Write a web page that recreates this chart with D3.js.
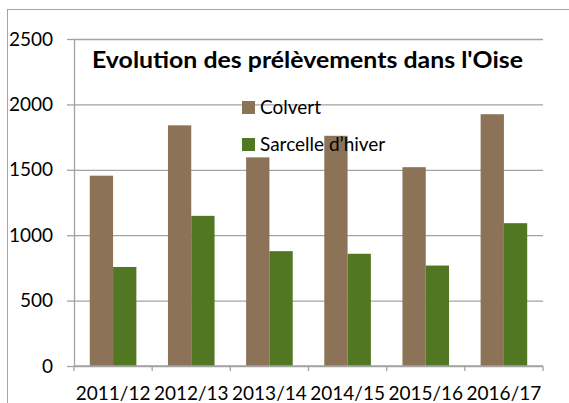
<!DOCTYPE html>
<html>
<head>
<meta charset="utf-8">
<script src="https://cdn.jsdelivr.net/npm/d3@7/dist/d3.min.js"></script>
<style>
  body { margin: 0; background: #fff; }
  svg { display: block; font-family: Lato, "Open Sans", sans-serif; }
</style>
</head>
<body>
<div id="chart"></div>
<script>
// Data
const seasons = ['2011/12', '2012/13', '2013/14', '2014/15', '2015/16', '2016/17'];
const colvert = [1455, 1840, 1595, 1760, 1520, 1925];
const sarcelle = [757, 1148, 878, 858, 768, 1092];
const seriesNames = ['Colvert', 'Sarcelle d\u2019hiver'];
const yTicks = [0, 500, 1000, 1500, 2000, 2500];
const title = "Evolution des pr\u00e9l\u00e8vements dans l'Oise";

const cfg = {
    width: 569, height: 403,
    plot: {left: 74, right: 543, top: 39, bottom: 366},
    colors: ['#8c7358', '#527722'],
    grid: '#a3a3a3',
    fontSize: 19,
};

const rows = seasons.map((s, i) => ({season: s, values: [colvert[i], sarcelle[i]]}));

const svg = d3.select('#chart').append('svg')
    .attr('width', cfg.width)
    .attr('height', cfg.height);

// Outer chart frame (cut off at right and bottom)
svg.append('rect')
    .attr('x', 7.5).attr('y', 9.5)
    .attr('width', 700).attr('height', 500)
    .attr('fill', 'none')
    .attr('stroke', '#a6a6a6');

// Scales
const x = d3.scaleBand()
    .domain(seasons)
    .range([cfg.plot.left, cfg.plot.right]);

const xInner = d3.scaleBand()
    .domain(seriesNames)
    .range([x.bandwidth() * 0.202, x.bandwidth() * 0.798]);

const y = d3.scaleLinear()
    .domain([0, 2500])
    .range([cfg.plot.bottom, cfg.plot.top]);

// Horizontal grid
svg.append('g')
    .attr('transform', `translate(${cfg.plot.left},0)`)
    .call(d3.axisLeft(y).tickValues(yTicks).tickSize(-(cfg.plot.right - cfg.plot.left)).tickFormat(''))
    .call(g => g.select('.domain').remove())
    .call(g => g.selectAll('line').attr('stroke', cfg.grid).attr('stroke-width', 1.3));

// Vertical axis with outside ticks
const yAxis = svg.append('g')
    .attr('transform', `translate(${cfg.plot.left},0)`)
    .call(d3.axisLeft(y).tickValues(yTicks).tickFormat(d3.format('d'))
        .tickSize(7).tickPadding(14).tickSizeOuter(0))
    .call(g => g.select('.domain').attr('stroke', cfg.grid).attr('stroke-width', 1.3))
    .call(g => g.selectAll('line').attr('stroke', cfg.grid).attr('stroke-width', 1.3));
yAxis.selectAll('text')
    .attr('font-size', cfg.fontSize)
    .attr('font-family', 'Lato, sans-serif')
    .attr('fill', '#000');

// Bars
const groups = svg.append('g').selectAll('g')
    .data(rows)
    .enter().append('g')
    .attr('transform', d => `translate(${x(d.season)},0)`);

groups.selectAll('rect')
    .data(d => d.values.map((v, k) => ({key: seriesNames[k], k, v})))
    .enter().append('rect')
    .attr('x', d => xInner(d.key))
    .attr('width', xInner.bandwidth())
    .attr('y', d => y(d.v))
    .attr('height', d => y(0) - y(d.v))
    .attr('fill', d => cfg.colors[d.k]);

// Horizontal axis: line, ticks at category edges, labels centred
const xAxis = svg.append('g')
    .attr('transform', `translate(0,${cfg.plot.bottom})`);

xAxis.append('line')
    .attr('x1', cfg.plot.left).attr('x2', cfg.plot.right)
    .attr('stroke', cfg.grid).attr('stroke-width', 1.3);

xAxis.selectAll('.edge')
    .data(seasons.map(s => x(s)).concat([cfg.plot.right]))
    .enter().append('line')
    .attr('class', 'edge')
    .attr('x1', d => d).attr('x2', d => d)
    .attr('y1', 0).attr('y2', 5)
    .attr('stroke', cfg.grid).attr('stroke-width', 1.3);

xAxis.selectAll('text')
    .data(seasons)
    .enter().append('text')
    .attr('x', d => x(d) + x.bandwidth() / 2)
    .attr('y', 34)
    .attr('text-anchor', 'middle')
    .attr('font-size', cfg.fontSize)
    .text(d => d);

// Title (stretched to the width it takes in the original)
svg.append('text')
    .attr('x', 92)
    .attr('y', 68)
    .attr('font-weight', 'bold')
    .attr('font-size', 22)
    .attr('textLength', 431)
    .attr('lengthAdjust', 'spacingAndGlyphs')
    .text(title);

// Legend
const legend = svg.append('g').selectAll('g')
    .data(seriesNames)
    .enter().append('g')
    .attr('transform', (d, i) => `translate(242,${101 + i * 37})`);

legend.append('rect')
    .attr('width', 13).attr('height', 13)
    .attr('fill', (d, i) => cfg.colors[i]);

legend.append('text')
    .attr('x', 18)
    .attr('y', 13)
    .attr('font-size', cfg.fontSize)
    .text(d => d);
</script>
</body>
</html>
